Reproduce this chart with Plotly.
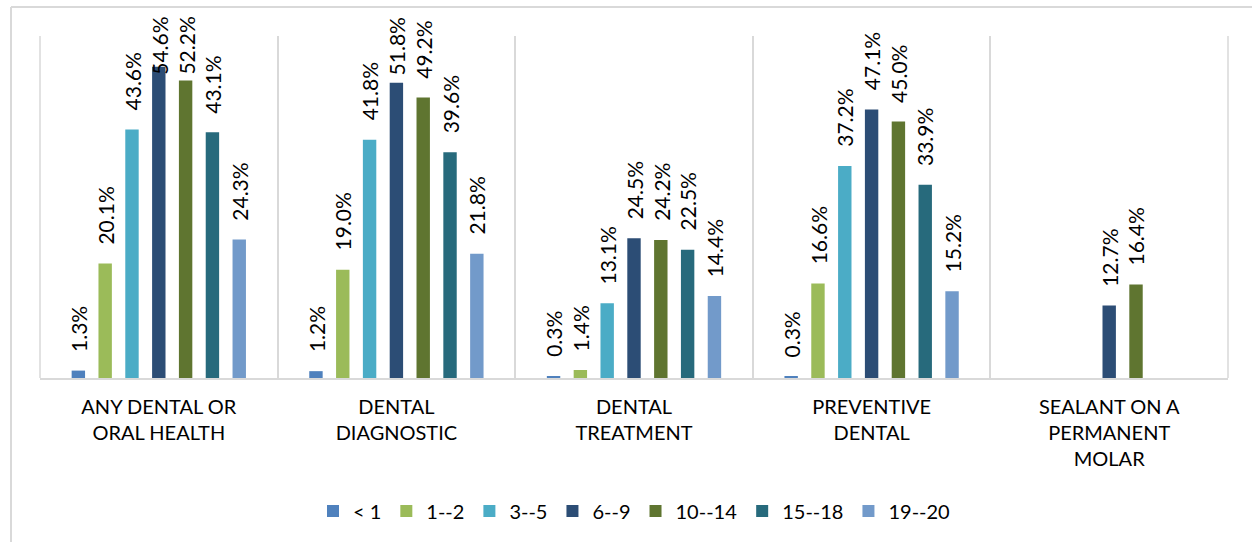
import plotly.graph_objects as go

categories = ["ANY DENTAL OR<br>ORAL HEALTH", "DENTAL<br>DIAGNOSTIC", "DENTAL<br>TREATMENT",
              "PREVENTIVE<br>DENTAL", "SEALANT ON A<br>PERMANENT<br>MOLAR"]
age_groups = ["< 1", "1--2", "3--5", "6--9", "10--14", "15--18", "19--20"]
colors = ["#4F81BD", "#9BBB59", "#4BACC6", "#2C4D75", "#5F7530", "#276A7C", "#729ACA"]

lt1 = [1.3, 1.2, 0.3, 0.3, None]
a1_2 = [20.1, 19.0, 1.4, 16.6, None]
a3_5 = [43.6, 41.8, 13.1, 37.2, None]
a6_9 = [54.6, 51.8, 24.5, 47.1, 12.7]
a10_14 = [52.2, 49.2, 24.2, 45.0, 16.4]
a15_18 = [43.1, 39.6, 22.5, 33.9, None]
a19_20 = [24.3, 21.8, 14.4, 15.2, None]
series = [lt1, a1_2, a3_5, a6_9, a10_14, a15_18, a19_20]

FONT = "Lato, 'Open Sans', sans-serif"
LABEL_SIZE = 21
YMAX = 60
BARGAP = 0.21

W, H = 1252, 542
L, R, T, B = 40, 24, 36, 164
pw, ph = W - L - R, H - T - B

def px(x):
    return (x - L) / pw

def py(y):
    return (H - B - y) / ph

fig = go.Figure()
for name, vals, col in zip(age_groups, series, colors):
    fig.add_trace(go.Bar(
        x=categories, y=vals, name=name,
        marker=dict(color=col, line=dict(width=0)),
        cliponaxis=False,
    ))

# value labels, placed above each bar (kept inside the chart area like the original)
n = len(series)
slot = pw / len(categories) * (1 - BARGAP) / n
GAP = 17
TOP_LIMIT = 15
annotations = []
for i, vals in enumerate(series):
    xs = (i - (n - 1) / 2) * slot
    for cat, v in zip(categories, vals):
        if v is None:
            continue
        txt = f"{v:.1f}%"
        est_len = LABEL_SIZE * 0.56 * (len(txt) - 1) + LABEL_SIZE * 0.3
        bar_top_px = (H - B) - v / YMAX * ph
        if bar_top_px - GAP - est_len < TOP_LIMIT:
            annotations.append(dict(x=cat, xref="x", y=py(TOP_LIMIT), yref="paper",
                                    yanchor="top", xanchor="center", xshift=xs,
                                    text=txt, textangle=-90, showarrow=False,
                                    font=dict(family=FONT, size=LABEL_SIZE, color="#000000")))
        else:
            annotations.append(dict(x=cat, xref="x", y=v, yref="y",
                                    yanchor="bottom", xanchor="center", xshift=xs, yshift=GAP,
                                    text=txt, textangle=-90, showarrow=False,
                                    font=dict(family=FONT, size=LABEL_SIZE, color="#000000")))

fig.update_layout(
    width=W, height=H,
    margin=dict(l=L, r=R, t=T, b=B),
    paper_bgcolor="white", plot_bgcolor="white",
    barmode="group", bargap=BARGAP, bargroupgap=0.5,
    font=dict(family=FONT, color="#000000"),
    showlegend=True,
    legend=dict(orientation="h", x=0.5, xanchor="center", y=py(511), yanchor="middle",
                font=dict(family=FONT, size=20, color="#000000"),
                itemwidth=30, traceorder="normal", tracegroupgap=0),
    xaxis=dict(showgrid=True, gridcolor="#D9D9D9", gridwidth=1.5, tickson="boundaries",
               ticks="", showline=True, linecolor="#D9D9D9", linewidth=2,
               tickfont=dict(family=FONT, size=20, color="#000000"), ticklen=0,
               ticklabelstandoff=10, range=[-0.5, 4.5]),
    yaxis=dict(range=[0, YMAX], showgrid=False, showticklabels=False, zeroline=False,
               showline=False, ticks=""),
    annotations=annotations,
    shapes=[
        dict(type="line", xref="paper", yref="paper", x0=px(11), x1=px(1260), y0=py(7), y1=py(7),
             line=dict(color="#D9D9D9", width=2)),
        dict(type="line", xref="paper", yref="paper", x0=px(11), x1=px(11), y0=py(7), y1=py(560),
             line=dict(color="#D9D9D9", width=2)),
        dict(type="line", xref="paper", yref="paper", x0=1, x1=1, y0=0, y1=1,
             line=dict(color="#D9D9D9", width=1.5)),
        dict(type="line", xref="paper", yref="paper", x0=0, x1=0, y0=0, y1=1,
             line=dict(color="#D9D9D9", width=1.5)),
    ],
)

fig.write_html("out.html")
